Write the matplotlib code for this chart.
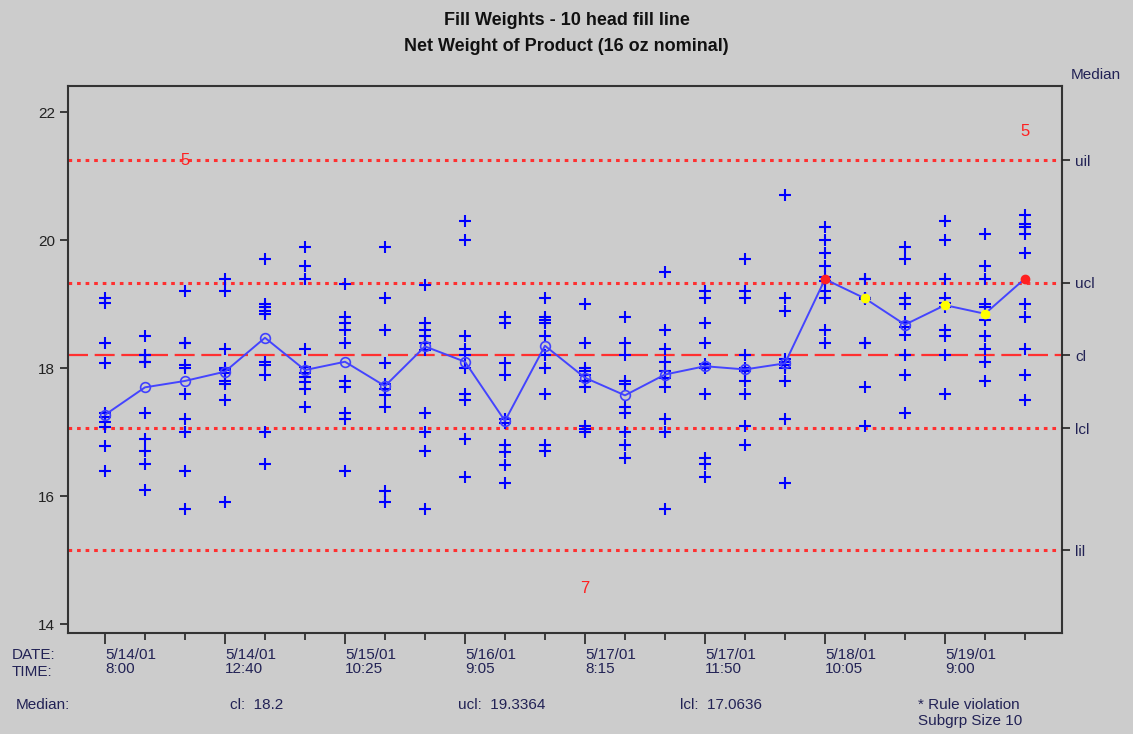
import numpy as np
import matplotlib.pyplot as plt

plt.rcParams['font.family'] = ['Liberation Sans', 'DejaVu Sans']

# ---- data -------------------------------------------------------------
subgroups = list(range(1, 25))
weights = [
    [19.10, 19.02, 18.40, 18.08, 17.30, 17.24, 17.16, 17.08, 16.79, 16.39],
    [18.50, 18.20, 18.20, 18.10, 18.10, 17.30, 16.90, 16.70, 16.50, 16.10],
    [19.20, 18.40, 18.40, 18.05, 18.00, 17.60, 17.20, 17.00, 16.40, 15.80],
    [19.40, 19.20, 18.30, 18.00, 17.97, 17.92, 17.80, 17.75, 17.50, 15.90],
    [19.70, 19.00, 18.95, 18.90, 18.85, 18.10, 18.05, 17.90, 17.00, 16.50],
    [19.90, 19.60, 19.40, 18.30, 18.02, 17.92, 17.86, 17.78, 17.68, 17.40],
    [19.31, 18.80, 18.70, 18.59, 18.40, 17.80, 17.70, 17.30, 17.20, 16.39],
    [19.90, 19.10, 18.59, 18.08, 17.76, 17.68, 17.58, 17.40, 16.08, 15.90],
    [19.30, 18.70, 18.60, 18.50, 18.40, 18.28, 17.30, 17.00, 16.70, 15.80],
    [20.30, 20.00, 18.50, 18.30, 18.20, 18.00, 17.60, 17.50, 16.90, 16.30],
    [18.80, 18.70, 18.08, 17.89, 17.21, 17.14, 16.80, 16.69, 16.48, 16.20],
    [19.10, 18.80, 18.75, 18.70, 18.50, 18.20, 18.00, 17.60, 16.80, 16.70],
    [19.00, 18.40, 18.00, 17.95, 17.90, 17.80, 17.70, 17.10, 17.05, 17.00],
    [18.80, 18.40, 18.20, 17.80, 17.75, 17.40, 17.30, 17.00, 16.80, 16.60],
    [19.50, 18.60, 18.30, 18.10, 17.95, 17.85, 17.70, 17.20, 17.00, 15.80],
    [19.20, 19.10, 18.70, 18.40, 18.06, 18.00, 17.60, 16.60, 16.50, 16.30],
    [19.70, 19.20, 19.10, 18.20, 18.00, 17.96, 17.80, 17.60, 17.10, 16.80],
    [20.70, 19.10, 18.90, 18.15, 18.10, 18.05, 18.00, 17.80, 17.20, 16.20],
    [20.20, 20.00, 19.80, 19.60, 19.42, 19.36, 19.20, 19.10, 18.60, 18.40],
    [19.40, 19.40, 19.10, 19.10, 19.10, 19.08, 18.40, 18.40, 17.70, 17.10],
    [19.90, 19.70, 19.10, 19.00, 18.72, 18.64, 18.52, 18.20, 17.90, 17.30],
    [20.30, 20.00, 19.40, 19.10, 19.02, 18.95, 18.60, 18.50, 18.20, 17.60],
    [20.10, 19.60, 19.40, 19.00, 18.95, 18.75, 18.50, 18.30, 18.10, 17.80],
    [20.40, 20.25, 20.20, 20.10, 19.80, 19.00, 18.80, 18.30, 17.90, 17.50],
]
# marker type for each subgroup median: 'n' normal, 'r' violation, 'y' warning
median_flags = ['n'] * 18 + ['r', 'y', 'n', 'y', 'y', 'r']

cl = 18.2
ucl = 19.3364
lcl = 17.0636
uil = 21.25
lil = 15.15

date_ticks = [1, 4, 7, 10, 13, 16, 19, 22]
date_labels = ['5/14/01\n8:00', '5/14/01\n12:40', '5/15/01\n10:25', '5/16/01\n9:05',
               '5/17/01\n8:15', '5/17/01\n11:50', '5/18/01\n10:05', '5/19/01\n9:00']

# counts of points beyond the limits, shown in red
count_notes = [(3, uil, '5'), (24, 21.7, '5'), (13, 14.55, '7')]

# ---- plot -------------------------------------------------------------
BG = '#cccccc'
fig = plt.figure(figsize=(11.33, 7.34), dpi=100, facecolor=BG)
ax = fig.add_axes([0.060, 0.1376, 0.8773, 0.7452], facecolor=BG)

x = np.array(subgroups)
medians = np.array([np.median(w) for w in weights])

# individual fill weights
for xi, w in zip(subgroups, weights):
    ax.plot([xi] * len(w), w, linestyle='none', marker='+', color='#0000ff',
            markersize=8, markeredgewidth=1.5, zorder=3)

# limit lines
for val in [uil, ucl, lcl, lil]:
    ax.axhline(val, color='#ff3030', linestyle=(0, (1.2, 1.6)), linewidth=2.2, zorder=2)
ax.axhline(cl, color='#ff3030', linestyle=(0, (9, 3)), linewidth=1.6, zorder=2)

# median line and markers
ax.plot(x, medians, color='#4444ff', linewidth=1.4, zorder=4)
flags = np.array(median_flags)
m = flags == 'n'
ax.plot(x[m], medians[m], linestyle='none', marker='o', markersize=7,
        markerfacecolor='none', markeredgecolor='#4040ff', markeredgewidth=1.2, zorder=5)
m = flags == 'r'
ax.plot(x[m], medians[m], linestyle='none', marker='o', markersize=6,
        color='#ff2020', zorder=5)
m = flags == 'y'
ax.plot(x[m], medians[m], linestyle='none', marker='o', markersize=6,
        color='#ffff00', zorder=5)

for xi, yi, txt in count_notes:
    ax.text(xi, yi, txt, color='#ff2020', fontsize=12, ha='center', va='center', zorder=6)

ax.set_xlim(0.075, 24.925)
ax.set_ylim(13.86, 22.41)
ax.set_yticks([14, 16, 18, 20, 22])
ax.tick_params(axis='y', labelsize=11, length=6, width=1.2, colors='#222222')
ax.set_xticks(subgroups, minor=True)
ax.set_xticks(date_ticks)
ax.set_xticklabels(date_labels, ha='left', fontsize=11, linespacing=1.0)
ax.tick_params(axis='x', which='major', length=8, width=1.2, pad=3, colors='#222222')
ax.tick_params(axis='x', which='minor', length=5, width=1.2, colors='#222222')
for lab in ax.get_xticklabels():
    lab.set_color('#222255')

for sp in ax.spines.values():
    sp.set_linewidth(1.5)
    sp.set_color('#333333')

# right-hand limit labels
ax2 = ax.twinx()
ax2.set_ylim(ax.get_ylim())
ax2.set_yticks([uil, ucl, cl, lcl, lil])
ax2.set_yticklabels(['uil', 'ucl', 'cl', 'lcl', 'lil'], fontsize=11, color='#222255')
ax2.tick_params(axis='y', length=6, width=1.2, colors='#222222')
for lab in ax2.get_yticklabels():
    lab.set_color('#222255')
for sp in ax2.spines.values():
    sp.set_visible(False)

# titles and footer text
fig.text(0.5, 0.972, 'Fill Weights - 10 head fill line', ha='center', va='center',
         fontsize=13, fontweight='bold', color='#111111')
fig.text(0.5, 0.937, 'Net Weight of Product (16 oz nominal)', ha='center', va='center',
         fontsize=13, fontweight='bold', color='#111111')
fig.text(1071 / 1133, 1 - 75 / 734, 'Median', ha='left', va='center', fontsize=11, color='#222255')

fig.text(12 / 1133, 1 - 655 / 734, 'DATE:', ha='left', va='center', fontsize=11, color='#222255')
fig.text(12 / 1133, 1 - 672 / 734, 'TIME:', ha='left', va='center', fontsize=11, color='#222255')
fig.text(16 / 1133, 1 - 705 / 734, 'Median:', ha='left', va='center', fontsize=11, color='#222255')
fig.text(230 / 1133, 1 - 705 / 734, 'cl:  %.1f' % cl, ha='left', va='center', fontsize=11, color='#222255')
fig.text(458 / 1133, 1 - 705 / 734, 'ucl:  %.4f' % ucl, ha='left', va='center', fontsize=11, color='#222255')
fig.text(680 / 1133, 1 - 705 / 734, 'lcl:  %.4f' % lcl, ha='left', va='center', fontsize=11, color='#222255')
fig.text(918 / 1133, 1 - 705 / 734, '* Rule violation', ha='left', va='center', fontsize=11, color='#222255')
fig.text(918 / 1133, 1 - 721 / 734, 'Subgrp Size 10', ha='left', va='center', fontsize=11, color='#222255')

fig.savefig('out.png', dpi=100, facecolor=BG)
